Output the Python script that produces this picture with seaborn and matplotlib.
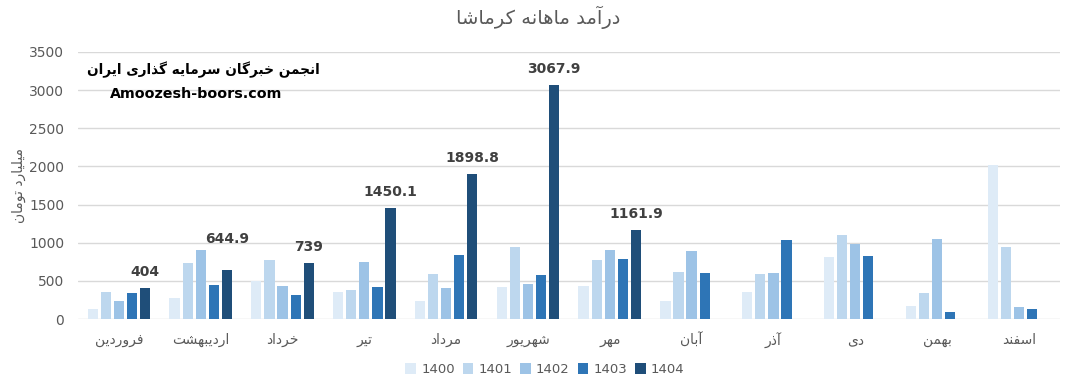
import matplotlib
matplotlib.use("Agg")
import matplotlib.pyplot as plt
from matplotlib.patches import Patch
import numpy as np
import pandas as pd
import seaborn as sns

# monthly revenue (billion toman)
months = ['فروردین', 'اردیبهشت', 'خرداد', 'تیر', 'مرداد', 'شهریور',
          'مهر', 'آبان', 'آذر', 'دی', 'بهمن', 'اسفند']
years = ['1400', '1401', '1402', '1403', '1404']
v1400 = [135, 280, 504, 359, 240, 424, 438, 240, 355, 815, 170, 2025]
v1401 = [359, 728, 780, 385, 596, 938, 780, 620, 592, 1105, 342, 945]
v1402 = [240, 911, 438, 750, 412, 464, 911, 896, 605, 985, 1050, 158]
v1403 = [346, 451, 320, 424, 833, 583, 793, 605, 1040, 828, 92, 131]
v1404 = [404, 644.9, 739, 1450.1, 1898.8, 3067.9, 1161.9,
         np.nan, np.nan, np.nan, np.nan, np.nan]
colors = ['#DEEBF7', '#BDD7EE', '#9DC3E6', '#2E75B6', '#1F4E79']

title = 'درآمد ماهانه کرماشا'
ylabel = 'میلیارد تومان'
watermark_fa = 'انجمن خبرگان سرمایه گذاری ایران'
watermark_en = 'Amoozesh-boors.com'

# matplotlib has no arabic shaping, so pick contextual forms by hand
# letter: (isolated, final, initial, medial)
FORMS = {
    'ا': (0xFE8D, 0xFE8E, None, None), 'آ': (0xFE81, 0xFE82, None, None),
    'ب': (0xFE8F, 0xFE90, 0xFE91, 0xFE92), 'پ': (0xFB56, 0xFB57, 0xFB58, 0xFB59),
    'ت': (0xFE95, 0xFE96, 0xFE97, 0xFE98), 'ج': (0xFE9D, 0xFE9E, 0xFE9F, 0xFEA0),
    'چ': (0xFB7A, 0xFB7B, 0xFB7C, 0xFB7D), 'خ': (0xFEA5, 0xFEA6, 0xFEA7, 0xFEA8),
    'د': (0xFEA9, 0xFEAA, None, None), 'ذ': (0xFEAB, 0xFEAC, None, None),
    'ر': (0xFEAD, 0xFEAE, None, None), 'ز': (0xFEAF, 0xFEB0, None, None),
    'ژ': (0xFB8A, 0xFB8B, None, None), 'س': (0xFEB1, 0xFEB2, 0xFEB3, 0xFEB4),
    'ش': (0xFEB5, 0xFEB6, 0xFEB7, 0xFEB8), 'ف': (0xFED1, 0xFED2, 0xFED3, 0xFED4),
    'ق': (0xFED5, 0xFED6, 0xFED7, 0xFED8), 'ک': (0xFB8E, 0xFB8F, 0xFB90, 0xFB91),
    'گ': (0xFB92, 0xFB93, 0xFB94, 0xFB95), 'ل': (0xFEDD, 0xFEDE, 0xFEDF, 0xFEE0),
    'م': (0xFEE1, 0xFEE2, 0xFEE3, 0xFEE4), 'ن': (0xFEE5, 0xFEE6, 0xFEE7, 0xFEE8),
    'و': (0xFEED, 0xFEEE, None, None), 'ه': (0xFEE9, 0xFEEA, 0xFEEB, 0xFEEC),
    'ی': (0xFBFC, 0xFBFD, 0xFBFE, 0xFBFF),
}


def fa(text):
    out = []
    for i, ch in enumerate(text):
        if ch not in FORMS:
            out.append(ch)
            continue
        prev = text[i - 1] if i > 0 else ''
        nxt = text[i + 1] if i + 1 < len(text) else ''
        joins_prev = prev in FORMS and FORMS[prev][2] is not None
        joins_next = FORMS[ch][2] is not None and nxt in FORMS
        iso, fin, ini, med = FORMS[ch]
        if joins_prev and joins_next:
            code = med
        elif joins_next:
            code = ini
        elif joins_prev:
            code = fin
        else:
            code = iso
        out.append(chr(code))
    return ''.join(out)[::-1]


df = pd.DataFrame({'month': months, '1400': v1400, '1401': v1401,
                   '1402': v1402, '1403': v1403, '1404': v1404})
long_df = df.melt(id_vars='month', var_name='year', value_name='value')
long_df['month_fa'] = long_df['month'].map(fa)

sns.set_style('white')
plt.rcParams['font.family'] = ['DejaVu Sans']
grey = '#595959'

fig = plt.figure(figsize=(10.77, 3.85), dpi=100)
ax = fig.add_axes([0.0724, 0.1714, 0.9116, 0.6936])
sns.barplot(data=long_df, x='month_fa', y='value', hue='year',
            hue_order=years, palette=colors, width=0.8, gap=0.22,
            saturation=1, linewidth=0, legend=False, ax=ax, zorder=2)

ax.set_ylim(0, 3500)
ax.set_yticks(range(0, 3501, 500))
ax.set_xlim(-0.5, len(months) - 0.5)
ax.grid(axis='y', color='#D9D9D9', linewidth=1, zorder=0)
ax.set_axisbelow(True)
for s in ax.spines.values():
    s.set_visible(False)
ax.tick_params(axis='both', length=0, colors=grey, labelsize=10)
ax.tick_params(axis='x', pad=10)
ax.tick_params(axis='y', pad=10)
ax.set_xlabel('')
ax.set_ylabel(fa(ylabel), color=grey, fontsize=10, labelpad=2)

# value labels on the 1404 bars
offsets = np.linspace(-0.32, 0.32, len(years))
for i, v in enumerate(v1404):
    if np.isnan(v):
        continue
    group_max = max(v1400[i], v1401[i], v1402[i], v1403[i])
    lift = 22 if group_max > v + 200 else 11.5
    ax.annotate(f'{v:g}', (i + offsets[-1], v), xytext=(0, lift),
                textcoords='offset points', ha='center', va='center',
                fontsize=10, fontweight='bold', color='#404040')

fig.text(0.5, 0.955, fa(title), ha='center', va='center',
         fontsize=14, color=grey)
fig.text(0.189, 0.818, fa(watermark_fa), ha='center', va='center',
         fontsize=9.8, fontweight='bold', color='black')
fig.text(0.182, 0.756, watermark_en, ha='center', va='center',
         fontsize=10.3, fontweight='bold', color='black')

handles = [Patch(facecolor=c, edgecolor='none') for c in colors]
fig.legend(handles, years, loc='center', bbox_to_anchor=(0.506, 0.04),
           ncol=5, frameon=False, fontsize=9.5, labelcolor=grey,
           handlelength=0.8, handleheight=0.8, handletextpad=0.4,
           columnspacing=0.6)

fig.savefig('out.png', dpi=100)
